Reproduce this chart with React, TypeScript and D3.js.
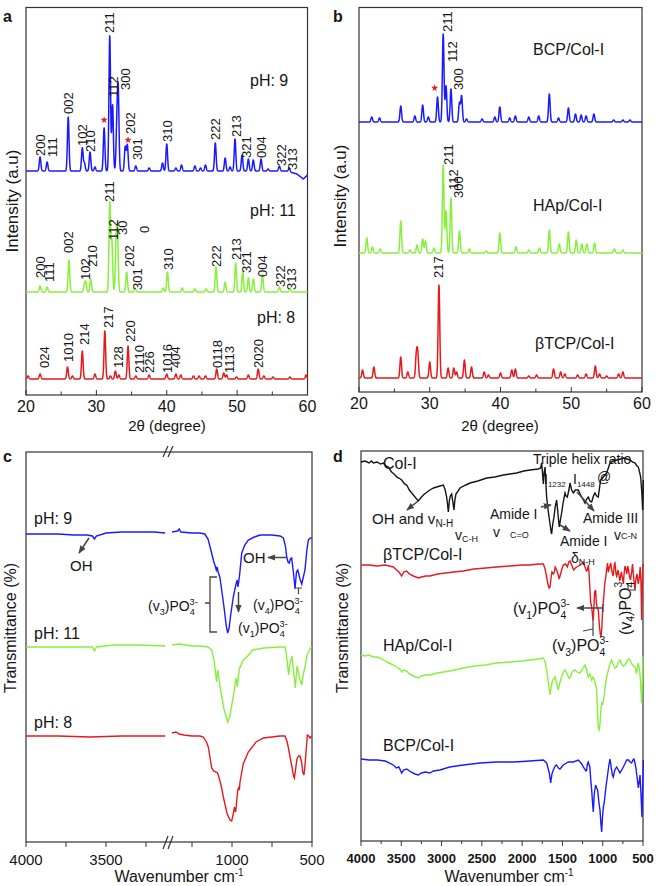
import React from "react";
import * as d3 from "d3";

const FONT = "Arial, 'Liberation Sans', Helvetica, sans-serif";
const BLUE = "#1a1aff";
const GREEN = "#86f03c";
const RED = "#e41a1c";
const BLACK = "#151515";
const ARROW = "#454545";

// ---------- XRD axis ----------
const xrdTicks = [20, 25, 30, 35, 40, 45, 50, 55, 60];
const xrdTickLabels = [20, 30, 40, 50, 60];

// ---------- Panel a : peaks [2θ, relative intensity] ----------
const peaksA_pH9: [number, number][] = [
  [22.0, 14], [23.0, 9], [26.0, 54], [28.0, 23], [28.3, 8], [29.1, 19], [29.8, 4], [31.1, 43],
  [31.9, 135], [32.3, 66], [32.9, 40], [33.1, 79], [34.1, 24], [34.4, 26], [35.6, 5], [37.5, 3],
  [39.4, 8], [40.0, 27], [41.3, 3], [42.1, 6], [44.0, 5], [44.8, 3], [45.5, 6], [46.9, 28],
  [48.3, 13], [49.0, 4], [49.7, 32], [50.7, 16], [51.6, 12], [52.3, 11], [53.4, 12], [54.4, 2],
  [56.0, 5], [57.4, 4],
];
const baseA_pH9: [number, number][] = [[20, 0], [57, 0], [58.5, -3], [59.4, -8], [60, -4]];
const peaksA_pH11: [number, number][] = [
  [22.0, 6], [23.0, 5], [26.1, 32], [28.3, 7], [28.5, 9], [29.2, 13], [31.9, 89], [32.2, 50],
  [32.8, 45], [33.0, 55], [34.3, 20], [35.5, 4], [39.5, 4], [40.1, 20], [42.2, 4], [44.0, 3],
  [45.6, 3], [47.0, 25], [48.3, 10], [49.8, 29], [50.8, 20], [51.6, 14], [52.3, 13], [53.6, 17],
  [56.0, 5], [57.5, 4],
];
const peaksA_pH8: [number, number][] = [
  [20.3, 3], [22.0, 5], [25.9, 12], [26.6, 3], [28.0, 28], [29.8, 5], [31.2, 48], [32.0, 3],
  [32.7, 8], [33.2, 4], [34.5, 33], [35.6, 3], [37.5, 4], [40.0, 5], [41.3, 5], [42.0, 4],
  [43.8, 3], [44.6, 3], [45.5, 3], [47.1, 10], [48.1, 6], [48.5, 4], [49.9, 2], [51.6, 4],
  [53.0, 10], [53.8, 3], [55.1, 2], [57.5, 2], [59.8, 4],
];
// [hkl, 2θ, level above the curve's baseline]
const hklA_pH9: [string, number, number][] = [
  ["200", 22.0, 15], ["111", 23.7, 14], ["002", 26.0, 57], ["102", 28.0, 25], ["210", 29.2, 19],
  ["211", 31.9, 138], ["112", 32.4, 74], ["300", 34.2, 81], ["202", 34.8, 37], ["301", 35.8, 11],
  ["310", 40.1, 29], ["222", 46.9, 31], ["213", 49.9, 34], ["321", 51.3, 13], ["004", 53.4, 13],
  ["322", 56.3, 5], ["313", 57.8, 1],
];
const hklA_pH11: [string, number, number][] = [
  ["200", 22.1, 14], ["111", 23.4, 10], ["002", 26.1, 39], ["102", 28.4, 12], ["210", 29.5, 25],
  ["211", 31.9, 90], ["112", 32.4, 52], ["30", 33.7, 57], ["0", 36.8, 59], ["202", 34.7, 25],
  ["301", 35.8, 2], ["310", 40.2, 22], ["222", 47.0, 25], ["213", 49.9, 32], ["321", 51.3, 19],
  ["004", 53.6, 15], ["322", 56.1, 5], ["313", 57.7, 2],
];
const hklA_pH8: [string, number, number][] = [
  ["024", 22.6, 11], ["1010", 26.1, 17], ["214", 28.3, 34], ["217", 31.7, 51], ["128", 33.1, 11],
  ["220", 34.9, 37], ["2110", 36.1, 6], ["226", 37.6, 6], ["1016", 40.1, 6], ["404", 41.3, 11],
  ["0118", 47.2, 11], ["1113", 48.9, 6], ["2020", 53.1, 11],
];
const offsetsA = [224, 103, 16];
const namesA = ["pH: 9", "pH: 11", "pH: 8"];
const starsA: [number, number][] = [[31.1, 51], [34.5, 31]];

// ---------- Panel b ----------
const peaksB_BCP: [number, number][] = [
  [21.8, 5], [22.9, 4], [25.9, 16], [27.9, 6], [29.0, 17], [29.8, 5], [31.1, 25], [31.9, 88],
  [32.3, 36], [33.0, 33], [34.2, 19], [34.5, 26], [35.2, 3], [37.4, 3], [39.2, 5], [39.9, 15],
  [41.3, 4], [42.1, 6], [44.0, 5], [45.4, 6], [46.9, 28], [48.2, 4], [49.6, 14], [50.6, 8],
  [51.4, 7], [52.1, 6], [53.2, 8], [56.0, 2], [57.3, 2], [58.3, 2],
];
const peaksB_HAp: [number, number][] = [
  [21.1, 15], [21.9, 6], [23.0, 4], [25.9, 32], [27.2, 3], [28.2, 8], [29.0, 14], [29.4, 12],
  [30.6, 5], [31.9, 88], [32.3, 42], [33.0, 55], [34.2, 22], [35.6, 4], [38.0, 2], [39.9, 20],
  [42.2, 6], [44.0, 3], [45.5, 5], [46.9, 23], [48.3, 9], [49.6, 21], [50.7, 13], [51.5, 9],
  [52.2, 9], [53.3, 10], [56.1, 4], [57.3, 3],
];
const peaksB_TCP: [number, number][] = [
  [20.5, 8], [22.1, 11], [25.9, 21], [26.9, 6], [28.1, 22], [28.3, 24], [30.0, 16], [31.3, 93],
  [32.6, 10], [33.4, 10], [33.8, 6], [34.9, 18], [35.9, 11], [37.7, 6], [38.3, 3], [40.0, 5],
  [41.6, 8], [42.1, 9], [44.0, 2], [45.1, 3], [47.5, 9], [48.5, 6], [49.1, 4], [50.9, 3],
  [52.1, 4], [53.4, 12], [54.0, 4], [55.0, 2], [56.7, 4], [57.3, 6],
];
const hklB_BCP: [string, number, number][] = [["211", 32.5, 90], ["112", 33.2, 60], ["300", 34.0, 32]];
const hklB_HAp: [string, number, number][] = [["211", 32.7, 88], ["112", 33.3, 63], ["300", 34.0, 55]];
const hklB_TCP: [string, number, number][] = [["217", 31.2, 100]];
const offsetsB = [270, 139, 14];
const namesB = ["BCP/Col-I", "HAp/Col-I", "βTCP/Col-I"];
const starsB: [number, number][] = [[30.7, 34]];

// ---------- Panel c : FTIR [wavenumber, transmittance (stacked a.u.)] ----------
const ftirC_pH9: [number, number][] = [
  [4000, 308], [3900, 308], [3800, 308], [3700, 307], [3620, 307], [3585, 306], [3572, 303],
  [3560, 306], [3500, 309], [3400, 310], [3300, 310], [3200, 310], [3130, 309],
  [1375, 310], [1340, 311], [1330, 313], [1320, 310], [1250, 309], [1200, 309], [1170, 308],
  [1150, 303], [1137, 295], [1115, 281], [1105, 276], [1098, 272], [1093, 275], [1088, 271],
  [1075, 264], [1050, 235], [1035, 215], [1027, 209], [1018, 214], [1010, 225], [992, 245],
  [975, 258], [967, 262], [963, 255], [958, 260], [952, 268], [939, 289], [920, 297], [898, 302],
  [860, 305], [825, 307], [750, 307], [700, 306], [679, 304], [665, 295], [658, 285], [650, 280],
  [642, 279], [635, 283], [627, 284], [615, 268], [606, 253], [597, 270], [589, 272], [575, 263],
  [564, 258], [554, 265], [544, 272], [532, 292], [523, 302], [510, 304], [502, 304],
];
const ftirC_pH11: [number, number][] = [
  [4000, 195], [3800, 195], [3620, 195], [3585, 195], [3572, 191], [3560, 195], [3450, 197],
  [3300, 197], [3130, 196],
  [1375, 197], [1330, 198], [1250, 196], [1200, 196], [1150, 195], [1127, 192], [1110, 180],
  [1100, 165], [1096, 160], [1090, 172], [1085, 168], [1075, 155], [1050, 133], [1027, 120],
  [1015, 125], [992, 145], [980, 158], [975, 164], [970, 160], [967, 155], [962, 163], [954, 173],
  [930, 182], [908, 185], [870, 192], [800, 194], [700, 195], [669, 195], [660, 188], [646, 167],
  [638, 178], [625, 186], [615, 170], [604, 154], [598, 168], [593, 176], [580, 165], [564, 157],
  [554, 168], [544, 175], [530, 188], [523, 190], [510, 194], [502, 195],
];
const ftirC_pH8: [number, number][] = [
  [4000, 106], [3800, 106], [3600, 105], [3400, 106], [3200, 106], [3130, 106],
  [1375, 109], [1350, 110], [1330, 108], [1300, 107], [1250, 106], [1200, 106], [1179, 105],
  [1160, 100], [1148, 95], [1135, 82], [1127, 74], [1115, 71], [1100, 70], [1090, 69], [1086, 67],
  [1070, 58], [1054, 45], [1030, 28], [1012, 22], [1002, 21], [992, 28], [985, 35], [981, 32],
  [977, 30], [970, 42], [964, 52], [958, 54], [954, 52], [950, 60], [930, 78], [898, 90],
  [850, 100], [804, 104], [700, 106], [669, 106], [655, 100], [645, 92], [637, 85], [625, 75],
  [615, 66], [610, 64], [603, 72], [595, 82], [592, 84], [583, 86], [575, 86], [565, 80],
  [558, 70], [550, 67], [542, 80], [535, 95], [529, 107], [520, 106], [512, 104], [502, 106],
];
const namesC = ["pH: 9", "pH: 11", "pH: 8"];
const ticksC_left = [4000, 3750, 3500, 3250];
const ticksC_right = [1250, 1000, 750, 500];
const labelsC = [4000, 3500, 1000, 500];

// ---------- Panel d ----------
const ftirD_Col: [number, number][] = [
  [4000, 380], [3950, 381], [3900, 379], [3870, 381], [3847, 379], [3800, 380], [3760, 378],
  [3723, 379], [3690, 376], [3661, 375], [3620, 370], [3590, 368], [3557, 365], [3530, 364],
  [3495, 362], [3460, 358], [3433, 357], [3400, 352], [3350, 347], [3320, 344], [3288, 341],
  [3260, 344], [3226, 347], [3180, 350], [3144, 352], [3100, 354], [3061, 355], [3020, 356],
  [2978, 357], [2955, 352], [2937, 345], [2925, 337], [2916, 330], [2905, 340], [2895, 345],
  [2885, 347], [2875, 348], [2860, 340], [2846, 332], [2835, 342], [2821, 348], [2771, 354],
  [2700, 357], [2647, 359], [2550, 361], [2440, 364], [2340, 365], [2234, 367], [2150, 368],
  [2068, 369], [1980, 371], [1903, 372], [1800, 373], [1770, 374], [1758, 379], [1748, 370],
  [1737, 358], [1726, 370], [1716, 375], [1706, 360], [1696, 345], [1675, 330], [1654, 318],
  [1640, 310], [1634, 308], [1620, 318], [1605, 325], [1590, 335], [1572, 342], [1555, 328],
  [1539, 315], [1525, 322], [1510, 329], [1490, 340], [1468, 349], [1455, 346], [1439, 345],
  [1420, 352], [1406, 359], [1385, 352], [1365, 349], [1340, 352], [1303, 352], [1280, 348],
  [1261, 345], [1240, 342], [1220, 339], [1200, 343], [1179, 345], [1160, 341], [1137, 340],
  [1115, 346], [1096, 349], [1075, 346], [1055, 345], [1040, 354], [1026, 362], [1010, 363],
  [993, 365], [970, 367], [951, 369], [930, 374], [910, 379], [870, 381], [827, 382], [780, 383],
  [744, 384], [700, 383], [661, 382], [630, 380], [599, 379], [575, 376], [558, 375], [540, 369],
  [529, 365], [515, 350], [504, 332], [499, 345], [496, 362],
];
const ftirD_TCP: [number, number][] = [
  [4000, 277], [3900, 277], [3800, 276], [3700, 277], [3600, 275], [3557, 272], [3530, 270],
  [3495, 266], [3470, 270], [3433, 271], [3400, 268], [3350, 266], [3288, 264], [3250, 265],
  [3200, 266], [3144, 266], [3050, 268], [2950, 269], [2850, 270], [2730, 271], [2600, 273],
  [2450, 274], [2316, 275], [2150, 276], [2000, 277], [1903, 277], [1800, 278], [1737, 278],
  [1715, 273], [1696, 265], [1680, 258], [1665, 254], [1654, 255], [1640, 265], [1630, 270],
  [1613, 268], [1600, 270], [1590, 275], [1572, 272], [1555, 268], [1540, 263], [1530, 266],
  [1510, 272], [1489, 277], [1460, 278], [1440, 275], [1420, 280], [1406, 281], [1380, 276],
  [1360, 272], [1340, 274], [1323, 275], [1300, 276], [1280, 277], [1260, 278], [1241, 280],
  [1220, 275], [1200, 271], [1190, 272], [1179, 277], [1170, 270], [1160, 255], [1150, 240],
  [1137, 235], [1125, 225], [1117, 222], [1110, 235], [1100, 250], [1088, 252], [1080, 240],
  [1070, 235], [1055, 232], [1040, 215], [1030, 208], [1021, 205], [1010, 215], [1000, 235],
  [992, 240], [975, 258], [960, 266], [951, 272], [940, 279], [930, 270], [915, 275], [900, 279],
  [889, 272], [870, 266], [855, 278], [848, 279], [835, 268], [827, 266], [810, 272], [795, 265],
  [786, 262], [770, 270], [755, 264], [744, 258], [735, 268], [724, 276], [710, 272], [700, 268],
  [690, 276], [682, 273], [665, 265], [655, 262], [641, 270], [630, 278], [620, 268], [610, 260],
  [599, 252], [590, 262], [575, 268], [558, 258], [545, 265], [535, 275], [525, 260], [517, 222],
  [510, 250], [504, 275], [496, 278],
];
const ftirD_HAp: [number, number][] = [
  [4000, 187], [3950, 186], [3900, 187], [3850, 185], [3800, 185], [3764, 184], [3700, 181],
  [3650, 179], [3600, 177], [3557, 175], [3520, 173], [3495, 170], [3470, 172], [3433, 171],
  [3400, 168], [3350, 166], [3288, 164], [3250, 166], [3200, 167], [3144, 167], [3050, 169],
  [2900, 171], [2730, 174], [2600, 176], [2450, 177], [2316, 179], [2150, 180], [2000, 181],
  [1903, 182], [1800, 183], [1737, 184], [1715, 180], [1696, 172], [1675, 160], [1654, 147],
  [1640, 155], [1621, 162], [1605, 163], [1592, 165], [1570, 158], [1551, 152], [1530, 160],
  [1510, 165], [1490, 170], [1468, 172], [1440, 168], [1420, 164], [1406, 164], [1380, 170],
  [1344, 172], [1320, 170], [1282, 169], [1250, 173], [1220, 177], [1200, 172], [1179, 165],
  [1160, 168], [1137, 162], [1120, 165], [1104, 162], [1090, 158], [1075, 152], [1065, 130],
  [1055, 114], [1045, 112], [1034, 118], [1025, 130], [1013, 139], [1000, 138], [984, 145],
  [970, 155], [951, 165], [930, 172], [910, 178], [889, 182], [870, 178], [850, 174], [827, 175],
  [805, 180], [786, 182], [765, 178], [744, 176], [724, 177], [700, 180], [680, 183], [661, 182],
  [640, 178], [620, 176], [599, 175], [585, 170], [578, 169], [565, 176], [558, 179], [540, 170],
  [530, 160], [517, 139], [508, 160], [500, 185], [496, 185],
];
const ftirD_BCP: [number, number][] = [
  [4000, 83], [3900, 82], [3800, 82], [3700, 81], [3620, 78], [3600, 77], [3560, 74], [3530, 75],
  [3495, 69], [3470, 72], [3433, 73], [3380, 70], [3330, 68], [3288, 67], [3250, 69], [3200, 70],
  [3144, 69], [3100, 71], [3020, 72], [2900, 75], [2730, 77], [2520, 79], [2316, 80], [2100, 80],
  [1903, 81], [1737, 82], [1696, 79], [1663, 69], [1646, 59], [1630, 68], [1613, 72], [1590, 76],
  [1572, 77], [1550, 74], [1530, 73], [1489, 77], [1427, 80], [1365, 80], [1303, 82], [1260, 78],
  [1241, 75], [1208, 71], [1200, 72], [1190, 78], [1180, 80], [1160, 75], [1148, 62], [1137, 52],
  [1127, 40], [1117, 30], [1105, 48], [1088, 57], [1075, 54], [1063, 52], [1048, 40], [1034, 32],
  [1022, 18], [1013, 10], [1003, 25], [992, 35], [980, 40], [960, 55], [943, 65], [925, 76],
  [910, 83], [895, 75], [880, 67], [869, 65], [850, 72], [827, 75], [805, 72], [786, 69],
  [765, 72], [744, 75], [720, 79], [703, 82], [680, 82], [660, 80], [641, 79], [625, 82],
  [612, 83], [600, 79], [588, 74], [572, 64], [558, 54], [548, 60], [537, 67], [525, 48],
  [513, 25], [505, 50], [496, 82],
];
const ticksD = [4000, 3500, 3000, 2500, 2000, 1500, 1000, 500];
const minorTicksD = [3750, 3250, 2750, 2250, 1750, 1250, 750];

// ---------- scales ----------
const xA = d3.scaleLinear().domain([20, 60]).range([26, 307.5]);
const yA = d3.scaleLinear().domain([0, 387.5]).range([395, 7.5]);
const xB = d3.scaleLinear().domain([20, 60]).range([359, 642]);
const yB = d3.scaleLinear().domain([0, 384.5]).range([392, 7.5]);
const xCl = d3.scaleLinear().domain([4000, 3125]).range([26, 166]);
const xCr = d3.scaleLinear().domain([1375, 500]).range([172, 312]);
const yC = d3.scaleLinear().domain([0, 390]).range([842, 452]);
const xD = d3.scaleLinear().domain([4000, 500]).range([361, 643]);
const yD = d3.scaleLinear().domain([0, 390]).range([842, 452]);

function xrdPath(
  peaks: [number, number][],
  base: [number, number][],
  offset: number,
  xs: d3.ScaleLinear<number, number>,
  ys: d3.ScaleLinear<number, number>
) {
  const bl = d3.scaleLinear().domain(base.map((b) => b[0])).range(base.map((b) => b[1]));
  const w = 0.16;
  const pts: [number, number][] = [];
  for (let i = 0; i <= 2000; i++) {
    const t = 20 + i * 0.02;
    let v = bl(t);
    for (const [p, h] of peaks) {
      const dd = (t - p) / w;
      if (Math.abs(dd) < 6) v += h * Math.exp(-dd * dd);
    }
    pts.push([xs(t), ys(offset + v)]);
  }
  return d3.line()(pts) || "";
}

const ftirLine = (xs: (v: number) => number, ys: (v: number) => number) =>
  d3
    .line<[number, number]>()
    .x((d) => xs(d[0]))
    .y((d) => ys(d[1]));

const Phos = ({ x, y, n, fs, rotate }: { x: number; y: number; n: string; fs: number; rotate?: boolean }) => {
  const s = fs * 0.65;
  return (
    <text
      x={rotate ? 0 : x}
      y={rotate ? 0 : y}
      transform={rotate ? `translate(${x},${y}) rotate(-90)` : undefined}
      fontSize={fs}
      fill={BLACK}
      dominantBaseline={rotate ? "central" : undefined}
    >
      (v
      <tspan dy={fs * 0.3} fontSize={s}>{n}</tspan>
      <tspan dy={-fs * 0.3}>)PO</tspan>
      <tspan dy={fs * 0.3} fontSize={s}>4</tspan>
      <tspan dx={-s * 0.56} dy={-fs * 0.75} fontSize={s}>3-</tspan>
    </text>
  );
};

const XrdPanel = ({
  xs, ys, series, frame, names, nameX, nameY, stars, starRef, label, labelX, titleX,
}: any) => (
  <g>
    <rect x={frame[0]} y={frame[1]} width={frame[2] - frame[0]} height={frame[3] - frame[1]} fill="none" stroke="#333" strokeWidth={1.2} />
    {series.map((s: any, i: number) => (
      <path key={i} d={xrdPath(s.peaks, s.base, s.offset, xs, ys)} fill="none" stroke={s.color} strokeWidth={1.5} strokeLinejoin="round" />
    ))}
    {series.map((s: any, i: number) =>
      s.labels.map((l: [string, number, number], j: number) => (
        <text
          key={i + "-" + j}
          transform={`translate(${xs(l[1])},${ys(s.offset + l[2])}) rotate(-90)`}
          fontSize={13}
          fill={BLACK}
          dominantBaseline="central"
        >
          {l[0]}
        </text>
      ))
    )}
    {stars.map((st: [number, number], i: number) => (
      <path
        key={"st" + i}
        transform={`translate(${xs(st[0])},${ys(series[starRef].offset + st[1])})`}
        d={d3.symbol(d3.symbolStar, 16)() || ""}
        fill={RED}
      />
    ))}
    {names.map((n: string, i: number) => (
      <text key={"n" + i} x={nameX[i]} y={nameY[i]} fontSize={16} fill={BLACK}>{n}</text>
    ))}
    {xrdTicks.map((t) => (
      <line key={"t" + t} x1={xs(t)} x2={xs(t)} y1={frame[3]} y2={frame[3] - (t % 10 === 0 ? 5 : 3.5)} stroke="#333" strokeWidth={1} />
    ))}
    {xrdTickLabels.map((t) => (
      <text key={"l" + t} x={xs(t)} y={frame[3] + 17} fontSize={16} textAnchor="middle" fill={BLACK}>{t}</text>
    ))}
    <text x={titleX} y={431} fontSize={15} textAnchor="middle" fill={BLACK}>2θ (degree)</text>
    <text transform={`translate(${labelX[0]},${labelX[1]}) rotate(-90)`} fontSize={17} textAnchor="middle" dominantBaseline="central" fill={BLACK}>
      Intensity (a.u)
    </text>
    <text x={label[1]} y={22} fontSize={16} fontWeight="bold" fill={BLACK}>{label[0]}</text>
  </g>
);

export default function App() {
  const seriesA = [
    { peaks: peaksA_pH9, base: baseA_pH9, offset: offsetsA[0], color: BLUE, labels: hklA_pH9 },
    { peaks: peaksA_pH11, base: [[20, 0], [60, 0]], offset: offsetsA[1], color: GREEN, labels: hklA_pH11 },
    { peaks: peaksA_pH8, base: [[20, 0], [60, 0]], offset: offsetsA[2], color: RED, labels: hklA_pH8 },
  ];
  const seriesB = [
    { peaks: peaksB_BCP, base: [[20, 0], [60, 0]], offset: offsetsB[0], color: BLUE, labels: hklB_BCP },
    { peaks: peaksB_HAp, base: [[20, 0], [60, 0]], offset: offsetsB[1], color: GREEN, labels: hklB_HAp },
    { peaks: peaksB_TCP, base: [[20, 0], [60, 0]], offset: offsetsB[2], color: RED, labels: hklB_TCP },
  ];
  const lineCl = ftirLine(xCl, yC);
  const lineCr = ftirLine(xCr, yC);
  const lineD = ftirLine(xD, yD);
  const seriesC: [[number, number][], string][] = [
    [ftirC_pH9, BLUE],
    [ftirC_pH11, GREEN],
    [ftirC_pH8, RED],
  ];
  const seriesD: [[number, number][], string][] = [
    [ftirD_Col, BLACK],
    [ftirD_TCP, RED],
    [ftirD_HAp, GREEN],
    [ftirD_BCP, BLUE],
  ];
  const xC = (v: number) => (v > 2000 ? xCl(v) : xCr(v));

  return (
    <svg
      width={661}
      height={886}
      viewBox="0 0 661 886"
      style={{ position: "absolute", left: 0, top: 0, background: "#fff", display: "block" }}
      fontFamily={FONT}
    >
      <defs>
        <marker id="arr" viewBox="0 0 10 8" refX={9} refY={4} markerWidth={8} markerHeight={7} orient="auto" markerUnits="userSpaceOnUse">
          <path d="M0,0 L10,4 L0,8 z" fill={ARROW} />
        </marker>
      </defs>
      <rect width={661} height={886} fill="#fff" />

      {/* Panel a */}
      <XrdPanel
        xs={xA}
        ys={yA}
        series={seriesA}
        frame={[26, 7.5, 307.5, 395]}
        names={namesA}
        nameX={[250, 250, 257]}
        nameY={[86, 216, 323]}
        stars={starsA}
        starRef={0}
        label={["a", 3]}
        labelX={[12, 201]}
        titleX={167}
      />
      {/* Panel b */}
      <XrdPanel
        xs={xB}
        ys={yB}
        series={seriesB}
        frame={[359, 7.5, 642, 392]}
        names={namesB}
        nameX={[533, 533, 535]}
        nameY={[55, 211, 349]}
        stars={starsB}
        starRef={0}
        label={["b", 333]}
        labelX={[340, 196]}
        titleX={500}
      />

      {/* Panel c */}
      <g>
        <rect x={26} y={452} width={286} height={390} fill="none" stroke="#333" strokeWidth={1.2} />
        {seriesC.map(([data, col], i) => (
          <g key={i}>
            <path d={lineCl(data.filter((d) => d[0] > 2000)) || ""} fill="none" stroke={col} strokeWidth={1.4} />
            <path d={lineCr(data.filter((d) => d[0] < 2000)) || ""} fill="none" stroke={col} strokeWidth={1.4} />
          </g>
        ))}
        {[...ticksC_left, ...ticksC_right].map((t) => (
          <line key={t} x1={xC(t)} x2={xC(t)} y1={842} y2={847} stroke="#333" strokeWidth={1} />
        ))}
        {labelsC.map((t) => (
          <text key={"l" + t} x={xC(t)} y={865} fontSize={15} textAnchor="middle" fill={BLACK}>{t}</text>
        ))}
        {/* axis break marks */}
        <path d="M163,457 L168,446 M168,457 L173,446" stroke="#333" strokeWidth={1.2} fill="none" />
        <path d="M163,849 L168,836 M168,849 L173,836" stroke="#333" strokeWidth={1.2} fill="none" />
        <text x={179} y={882} fontSize={16} textAnchor="middle" fill={BLACK}>
          Wavenumber cm<tspan dy={-6} fontSize={10}>-1</tspan>
        </text>
        <text transform="translate(10,628) rotate(-90)" fontSize={16} textAnchor="middle" dominantBaseline="central" fill={BLACK}>
          Transmittance (%)
        </text>
        <text x={3} y={462} fontSize={16} fontWeight="bold" fill={BLACK}>c</text>
        {namesC.map((n, i) => (
          <text key={n} x={34} y={[524, 639, 728][i]} fontSize={16} fill={BLACK}>{n}</text>
        ))}
        {/* annotations */}
        <line x1={89} y1={538} x2={79} y2={553} stroke={ARROW} strokeWidth={1.5} markerEnd="url(#arr)" />
        <text x={70} y={571} fontSize={15} fill={BLACK}>OH</text>
        <line x1={286} y1={557.5} x2={268} y2={557.5} stroke={ARROW} strokeWidth={1.5} markerEnd="url(#arr)" />
        <text x={243} y={563} fontSize={15} fill={BLACK}>OH</text>
        <Phos x={148} y={611} n="3" fs={14} />
        <path d="M217,577 L210,577 L210,632 L217,632 M210,603 L205,603" stroke={ARROW} strokeWidth={1.3} fill="none" />
        <line x1={238.5} y1={592} x2={238.5} y2={612} stroke={ARROW} strokeWidth={1.5} markerEnd="url(#arr)" />
        <Phos x={238} y={633} n="1" fs={14} />
        <Phos x={253} y={610} n="4" fs={14} />
        <path d="M295,588 L302,588 M298.5,588 L298.5,594" stroke={ARROW} strokeWidth={1.2} fill="none" />
      </g>

      {/* Panel d */}
      <g>
        <rect x={361} y={451} width={282} height={390} fill="none" stroke="#333" strokeWidth={1.2} />
        {seriesD.map(([data, col], i) => (
          <path key={i} d={lineD(data) || ""} fill="none" stroke={col} strokeWidth={1.4} />
        ))}
        {ticksD.map((t) => (
          <line key={t} x1={xD(t)} x2={xD(t)} y1={841} y2={846} stroke="#333" strokeWidth={1} />
        ))}
        {minorTicksD.map((t) => (
          <line key={t} x1={xD(t)} x2={xD(t)} y1={841} y2={844} stroke="#333" strokeWidth={1} />
        ))}
        {ticksD.map((t) => (
          <text key={"l" + t} x={xD(t)} y={863} fontSize={13} fontWeight="bold" textAnchor="middle" fill={BLACK}>{t}</text>
        ))}
        <text x={509} y={882} fontSize={16} textAnchor="middle" fill={BLACK}>
          Wavenumber cm<tspan dy={-6} fontSize={10}>-1</tspan>
        </text>
        <text transform="translate(342,628) rotate(-90)" fontSize={16} textAnchor="middle" dominantBaseline="central" fill={BLACK}>
          Transmittance (%)
        </text>
        <text x={333} y={462} fontSize={16} fontWeight="bold" fill={BLACK}>d</text>
        <text x={383} y={469} fontSize={16} fill={BLACK}>Col-I</text>
        <text x={383} y={560} fontSize={16} fill={BLACK}>βTCP/Col-I</text>
        <text x={383} y={651} fontSize={16} fill={BLACK}>HAp/Col-I</text>
        <text x={383} y={751} fontSize={16} fill={BLACK}>BCP/Col-I</text>
        <text x={533} y={464} fontSize={14} fill={BLACK}>Triple helix ratio</text>
        <text x={544} y={484} fontSize={14} fill={BLACK}>
          I<tspan dy={3} fontSize={8}>1232</tspan>
        </text>
        <text x={573} y={484} fontSize={14} fill={BLACK}>
          I<tspan dy={3} fontSize={8}>1448</tspan>
        </text>
        <text x={597} y={482} fontSize={14} fill={BLACK}>@</text>
        <text x={372} y={524} fontSize={15} fill={BLACK}>
          OH and v<tspan dy={3} fontSize={10}>N-H</tspan>
        </text>
        <text x={455} y={540} fontSize={14} fill={BLACK}>
          v<tspan dy={2} fontSize={9}>C-H</tspan>
        </text>
        <text x={490} y={519} fontSize={14} fill={BLACK}>Amide I</text>
        <text x={493} y={537} fontSize={14} fill={BLACK}>
          v<tspan dx={10} dy={1} fontSize={9}>C=O</tspan>
        </text>
        <text x={560} y={546} fontSize={14} fill={BLACK}>Amide I</text>
        <text x={571} y={563} fontSize={14} fill={BLACK}>
          δ<tspan dy={2} fontSize={9}>N-H</tspan>
        </text>
        <text x={583} y={523} fontSize={14} fill={BLACK}>Amide III</text>
        <text x={614} y={540} fontSize={14} fill={BLACK}>
          v<tspan dy={-1} fontSize={9}>C-N</tspan>
        </text>
        <line x1={418} y1={501} x2={407} y2={510} stroke={ARROW} strokeWidth={1.5} markerEnd="url(#arr)" />
        <line x1={541} y1={507} x2={551} y2={505} stroke={ARROW} strokeWidth={1.5} markerEnd="url(#arr)" />
        <line x1={560} y1={525} x2={570} y2={531} stroke={ARROW} strokeWidth={1.5} markerEnd="url(#arr)" />
        <line x1={577} y1={492} x2={594} y2={511} stroke={ARROW} strokeWidth={1.5} markerEnd="url(#arr)" />
        <Phos x={513} y={614} n="1" fs={16} />
        <line x1={603} y1={608} x2={577} y2={608} stroke={ARROW} strokeWidth={1.5} markerEnd="url(#arr)" />
        <line x1={603} y1={604} x2={603} y2={612} stroke={ARROW} strokeWidth={1.2} />
        <Phos x={552} y={651} n="3" fs={16} />
        <path d="M583,631 L593,629 M593,619 L593,636" stroke={ARROW} strokeWidth={1.2} fill="none" />
        <Phos x={625} y={635} n="4" fs={16} rotate />
        <path d="M628,584 L628,590 L636,590" stroke={ARROW} strokeWidth={1.2} fill="none" />
      </g>
    </svg>
  );
}
